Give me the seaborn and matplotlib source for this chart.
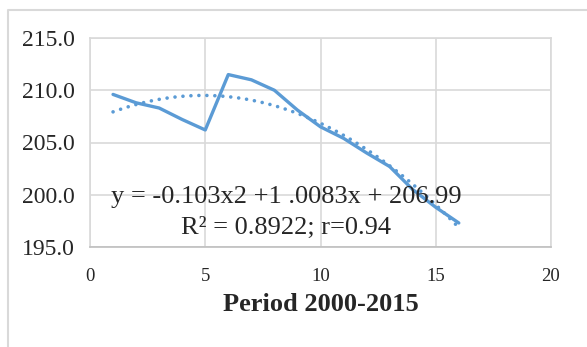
import numpy as np
import pandas as pd
import matplotlib
matplotlib.use("Agg")
import matplotlib.pyplot as plt
import seaborn as sns
from matplotlib.lines import Line2D

# values
period = [1, 2, 3, 4, 5, 6, 7, 8, 9, 10, 11, 12, 13, 14, 15, 16]
values = [209.6, 208.8, 208.3, 207.2, 206.2, 211.5, 211.0, 210.0, 208.1,
          206.5, 205.4, 204.0, 202.7, 200.5, 198.8, 197.3]
y_ticks = [195, 200, 205, 210, 215]
x_ticks = [0, 5, 10, 15, 20]
eq_line1 = "y = -0.103x2 +1 .0083x + 206.99"
eq_line2 = "R² = 0.8922; r=0.94"
x_label = "Period 2000-2015"

df = pd.DataFrame({"period": period, "value": values})

sns.set_style("white")
plt.rcParams["font.family"] = ["Liberation Serif", "DejaVu Serif"]

blue = "#5B9BD5"
grid = "#D9D9D9"

fig = plt.figure(figsize=(5.87, 3.47), dpi=100)
ax = fig.add_axes([90 / 587, 1 - 247 / 347, 461 / 587, 209 / 347])

sns.lineplot(data=df, x="period", y="value", ax=ax, color=blue, lw=2.4,
             solid_joinstyle="round", solid_capstyle="round")
sns.regplot(data=df, x="period", y="value", ax=ax, order=2, ci=None,
            scatter=False, color=blue,
            line_kws=dict(lw=2.6, ls=(0, (0.01, 2.2)), dash_capstyle="round"))

ax.set_xlim(0, 20)
ax.set_ylim(195, 215)
ax.set_xticks(x_ticks)
ax.set_yticks(y_ticks)
ax.set_yticklabels([f"{v:.1f}" for v in y_ticks], fontsize=17)
ax.set_xticklabels([str(v) for v in x_ticks], fontsize=13.5)
ax.tick_params(axis="x", length=0, pad=15)
ax.tick_params(axis="y", length=0, pad=11)

ax.grid(True, color=grid, lw=1.2)
for s in ax.spines.values():
    s.set_color(grid)
    s.set_linewidth(1.2)
ax.spines["bottom"].set_color("#BFBFBF")

ax.set_ylabel("")
ax.set_xlabel(x_label, fontsize=19, fontweight="bold")
ax.xaxis.set_label_coords(0.5, -0.277)
ax.xaxis.label.set_va("center")

ax.text(8.52, 199.8, eq_line1, ha="center", va="center", fontsize=19)
ax.text(8.52, 196.8, eq_line2, ha="center", va="center", fontsize=19)

# outer chart frame (left and top edges visible)
fig.add_artist(Line2D([8 / 587, 8 / 587, 1], [0, 1 - 10 / 347, 1 - 10 / 347],
                      transform=fig.transFigure, color=grid, lw=1.5))

fig.savefig("out.png", dpi=100)
